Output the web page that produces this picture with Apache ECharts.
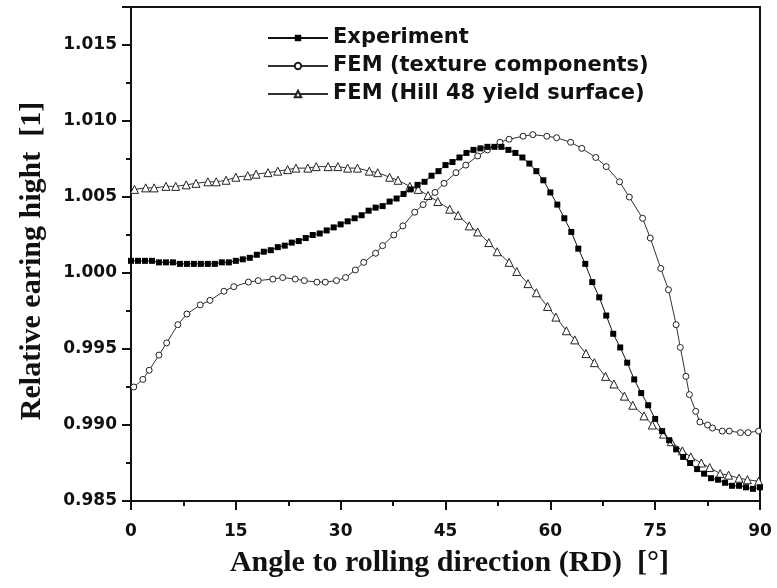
<!DOCTYPE html>
<html>
<head>
<meta charset="utf-8">
<script src="https://cdn.jsdelivr.net/npm/echarts@6/dist/echarts.min.js"></script>
<style>html,body{margin:0;padding:0;background:#fff;}#c{width:777px;height:588px;}</style>
</head>
<body>
<div id="c"></div>
<script>
var seriesNames = ['Experiment', 'FEM (texture components)', 'FEM (Hill 48 yield surface)'];
var xTicks = [0, 15, 30, 45, 60, 75, 90];
var yTicks = [0.985, 0.990, 0.995, 1.000, 1.005, 1.010, 1.015];

var expAngles = [0,1,2,3,4,5,6,7,8,9,10,11,12,13,14,15,16,17,18,19,20,21,22,23,24,25,26,27,28,29,30,31,32,33,34,35,36,37,38,39,40,41,42,43,44,45,46,47,48,49,50,51,52,53,54,55,56,57,58,59,60,61,62,63,64,65,66,67,68,69,70,71,72,73,74,75,76,77,78,79,80,81,82,83,84,85,86,87,88,89,90];
var expValues = [1.0008,1.0008,1.0008,1.0008,1.0007,1.0007,1.0007,1.0006,1.0006,1.0006,
  1.0006,1.0006,1.0006,1.0007,1.0007,1.0008,1.0009,1.0010,1.0012,1.0014,
  1.0015,1.0017,1.0018,1.0020,1.0021,1.0023,1.0025,1.0026,1.0028,1.0030,
  1.0032,1.0034,1.0036,1.0038,1.0041,1.0043,1.0044,1.0047,1.0049,1.0052,
  1.0055,1.0058,1.0060,1.0064,1.0067,1.0071,1.0073,1.0076,1.0079,1.0081,
  1.0082,1.0083,1.0083,1.0083,1.0081,1.0079,1.0076,1.0072,1.0067,1.0061,
  1.0053,1.0045,1.0036,1.0027,1.0016,1.0006,0.9994,0.9984,0.9972,0.9960,
  0.9951,0.9941,0.9930,0.9921,0.9913,0.9904,0.9896,0.9890,0.9884,0.9879,
  0.9875,0.9871,0.9868,0.9865,0.9864,0.9862,0.9860,0.9860,0.9859,0.9858,0.9859];

var texAngles = [0.4,1.7,2.6,4.0,5.1,6.7,8.0,9.9,11.3,13.3,14.7,16.8,18.2,20.3,21.7,23.5,24.8,26.6,27.8,29.4,
  30.7,32.1,33.3,35.0,36.0,37.6,38.9,40.6,41.8,43.5,44.8,46.5,47.9,49.6,51.0,52.8,54.1,56.1,57.5,59.5,
  60.9,62.9,64.5,66.5,68.0,69.9,71.3,73.2,74.3,75.8,76.9,78.0,78.6,79.4,79.9,80.8,81.4,82.5,83.2,84.6,
  85.6,87.2,88.3,89.8];
var texValues = [0.9925,0.9930,0.9936,0.9946,0.9954,0.9966,0.9973,0.9979,0.9982,0.9988,
  0.9991,0.9994,0.9995,0.9996,0.9997,0.9996,0.9995,0.9994,0.9994,0.9995,
  0.9997,1.0002,1.0007,1.0013,1.0018,1.0025,1.0031,1.0040,1.0045,1.0053,
  1.0059,1.0066,1.0071,1.0077,1.0081,1.0086,1.0088,1.0090,1.0091,1.0090,
  1.0089,1.0086,1.0082,1.0076,1.0070,1.0060,1.0050,1.0036,1.0023,1.0003,
  0.9989,0.9966,0.9951,0.9932,0.9920,0.9909,0.9902,0.9900,0.9898,0.9896,
  0.9896,0.9895,0.9895,0.9896];

var hillAngles = [0.5,2.1,3.3,5.0,6.4,7.9,9.3,11.0,12.2,13.6,15.0,16.7,17.9,19.6,21.0,22.4,23.6,25.3,26.5,28.2,
  29.6,31.0,32.4,34.1,35.3,37.0,38.2,39.9,41.1,42.5,43.9,45.6,46.8,48.4,49.6,51.2,52.4,54.1,55.2,56.8,
  58.0,59.6,60.8,62.3,63.5,65.1,66.3,67.9,69.1,70.6,71.8,73.4,74.6,76.2,77.3,78.9,80.1,81.6,82.8,84.3,
  85.5,87.0,88.2,89.8];
var hillValues = [1.0055,1.0056,1.0056,1.0057,1.0057,1.0058,1.0059,1.0060,1.0060,1.0061,
  1.0063,1.0064,1.0065,1.0066,1.0067,1.0068,1.0069,1.0069,1.0070,1.0070,
  1.0070,1.0069,1.0069,1.0067,1.0066,1.0063,1.0061,1.0057,1.0055,1.0051,
  1.0047,1.0042,1.0038,1.0031,1.0027,1.0020,1.0014,1.0007,1.0001,0.9993,
  0.9987,0.9978,0.9971,0.9962,0.9956,0.9947,0.9941,0.9932,0.9927,0.9919,
  0.9913,0.9906,0.9900,0.9894,0.9889,0.9883,0.9879,0.9875,0.9872,0.9868,
  0.9867,0.9865,0.9864,0.9863];

function zip(a, b) { return a.map(function (v, i) { return [v, b[i]]; }); }

var chart = echarts.init(document.getElementById('c'), null, { renderer: 'canvas' });
var labelFont = { fontFamily: 'DejaVu Sans', fontWeight: 'bold', fontSize: 17, color: '#111' };
var nameFont = { fontFamily: 'Liberation Serif', fontWeight: 'bold', fontSize: 30, color: '#111' };

chart.setOption({
  animation: false,
  backgroundColor: '#fff',
  grid: { left: 131, right: 17, top: 7, bottom: 87, show: true, borderColor: '#111', borderWidth: 2, backgroundColor: 'transparent' },
  legend: {
    orient: 'vertical', left: 262, top: 22,
    itemWidth: 60, itemHeight: 8, itemGap: 6,
    data: seriesNames,
    textStyle: { fontFamily: 'DejaVu Sans', fontWeight: 'bold', fontSize: 21, color: '#111', lineHeight: 22 }
  },
  xAxis: {
    type: 'value', min: xTicks[0], max: xTicks[xTicks.length - 1], interval: 15,
    name: 'Angle to rolling direction (RD)  [°]', nameLocation: 'middle', nameGap: 47,
    nameTextStyle: Object.assign({ padding: [0, 0, 0, 8] }, nameFont),
    axisLine: { show: true, lineStyle: { color: '#111', width: 2 } },
    axisTick: { show: true, inside: false, length: 9, lineStyle: { color: '#111', width: 2 } },
    minorTick: { show: true, splitNumber: 2, length: 5, lineStyle: { color: '#111', width: 2 } },
    splitLine: { show: false },
    axisLabel: Object.assign({ margin: 22 }, labelFont)
  },
  yAxis: {
    type: 'value', min: yTicks[0], max: 1.0175, interval: 0.005,
    name: 'Relative earing hight  [1]', nameLocation: 'middle', nameGap: 84,
    nameTextStyle: Object.assign({ padding: [0, 14, 0, 0] }, nameFont),
    axisLine: { show: true, lineStyle: { color: '#111', width: 2 } },
    axisTick: { show: true, inside: false, length: 9, lineStyle: { color: '#111', width: 2 } },
    minorTick: { show: true, splitNumber: 2, length: 5, lineStyle: { color: '#111', width: 2 } },
    splitLine: { show: false },
    axisLabel: Object.assign({ margin: 14, showMaxLabel: false, formatter: function (v) { return v > 1.016 ? '' : v.toFixed(3); } }, labelFont)
  },
  series: [
    {
      name: seriesNames[0], type: 'line', data: zip(expAngles, expValues), z: 5,
      symbol: 'rect', symbolSize: 6,
      lineStyle: { color: '#111', width: 1 },
      itemStyle: { color: '#000', borderWidth: 0 }
    },
    {
      name: seriesNames[1], type: 'line', data: zip(texAngles, texValues), z: 4,
      symbol: 'circle', symbolSize: 6,
      lineStyle: { color: '#333', width: 1 },
      itemStyle: { color: '#fff', borderColor: '#222', borderWidth: 1 }
    },
    {
      name: seriesNames[2], type: 'line', data: zip(hillAngles, hillValues), z: 3,
      symbol: 'triangle', symbolSize: 8,
      lineStyle: { color: '#333', width: 1 },
      itemStyle: { color: '#fff', borderColor: '#222', borderWidth: 1 }
    }
  ]
});
</script>
</body>
</html>
